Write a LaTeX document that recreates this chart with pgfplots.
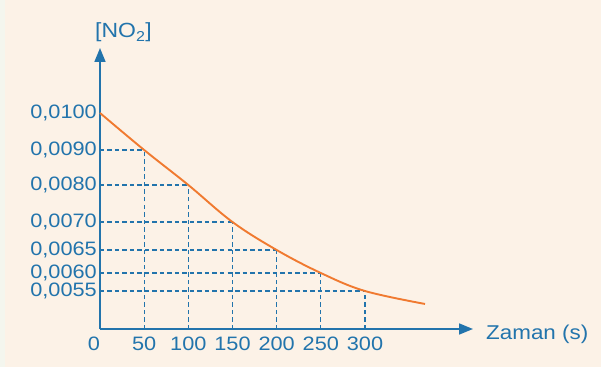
\documentclass[border=0pt]{standalone}
\usepackage{fontspec}
\setmainfont{Liberation Sans}[FakeStretch=1.12]
\usepackage{pgfplots}
\pgfplotsset{compat=1.18}
\usepackage{pgfplotstable}
\usetikzlibrary{arrows.meta}
\definecolor{bgc}{RGB}{252,242,231}
\definecolor{stripc}{RGB}{244,246,238}
\definecolor{axblue}{RGB}{34,116,172}
\definecolor{curveor}{RGB}{240,122,48}

\pgfplotstableread{
t c
0 0.0100
50 0.0090
100 0.0080
150 0.0070
200 0.0065
250 0.0060
300 0.0055
368 0.00514
}\curvedata
\pgfplotstableread{
t c
50 0.0090
100 0.0080
150 0.0070
200 0.0065
250 0.0060
300 0.0055
}\griddata

\begin{document}
\begin{tikzpicture}
\fill[bgc] (-100bp,-38bp) rectangle (501bp,329bp);
\fill[stripc] (-100bp,-38bp) rectangle (-95bp,329bp);
\begin{axis}[
  scale only axis, width=373bp, height=281bp,
  anchor=south west, at={(0,0)},
  xmin=0, xmax=422.3, ymin=0, ymax=281,
  axis lines=left,
  axis line style={axblue, line width=1.7bp, -{Triangle[length=14bp,width=11bp]}},
  xtick={50,100,150,200,250,300},
  xticklabels={50,100,150,200,250,300},
  ytick={38,56,79,107,144,179,216},
  yticklabels={{0,0055},{0,0060},{0,0065},{0,0070},{0,0080},{0,0090},{0,0100}},
  major tick length=0pt,
  tick label style={font=\fontsize{19.4bp}{20bp}\selectfont, text=axblue, inner sep=0pt},
  xticklabel style={anchor=base, yshift=-21bp},
  yticklabel style={anchor=east, xshift=-3bp},
  clip=false,
  declare function={vpos(\c)=ifthenelse(\c>=0.009, 179+(\c-0.009)*37000,
     ifthenelse(\c>=0.008, 144+(\c-0.008)*35000,
     ifthenelse(\c>=0.007, 107+(\c-0.007)*37000,
     ifthenelse(\c>=0.0065, 79+(\c-0.0065)*56000,
     ifthenelse(\c>=0.006, 56+(\c-0.006)*46000, 38+(\c-0.0055)*36000)))));},
]
\addplot[axblue, line width=1.3bp, dash pattern=on 4.5bp off 3bp, xcomb, mark=none]
  table[x=t, y expr={vpos(\thisrow{c})}]{\griddata};
\addplot[axblue, line width=1.3bp, dash pattern=on 4.5bp off 3bp, ycomb, mark=none]
  table[x=t, y expr={vpos(\thisrow{c})}]{\griddata};
\addplot[curveor, line width=1.9bp, smooth, tension=0.6, mark=none]
  table[x=t, y expr={vpos(\thisrow{c})}]{\curvedata};
\end{axis}
\node[anchor=base, inner sep=0pt, text=axblue, font=\fontsize{19.4bp}{20bp}\selectfont] at (-6bp,-21bp) {0};
\node[anchor=base west, inner sep=0pt, text=axblue, font=\fontsize{20bp}{22bp}\selectfont] at (386bp,-10bp) {Zaman (s)};
\node[anchor=base west, inner sep=0pt, text=axblue, font=\fontsize{20.5bp}{22bp}\selectfont] at (-5bp,291bp) {[NO\textsubscript{2}]};
\pgfresetboundingbox
\useasboundingbox (-100bp,-38bp) rectangle (501bp,329bp);
\end{tikzpicture}
\end{document}
